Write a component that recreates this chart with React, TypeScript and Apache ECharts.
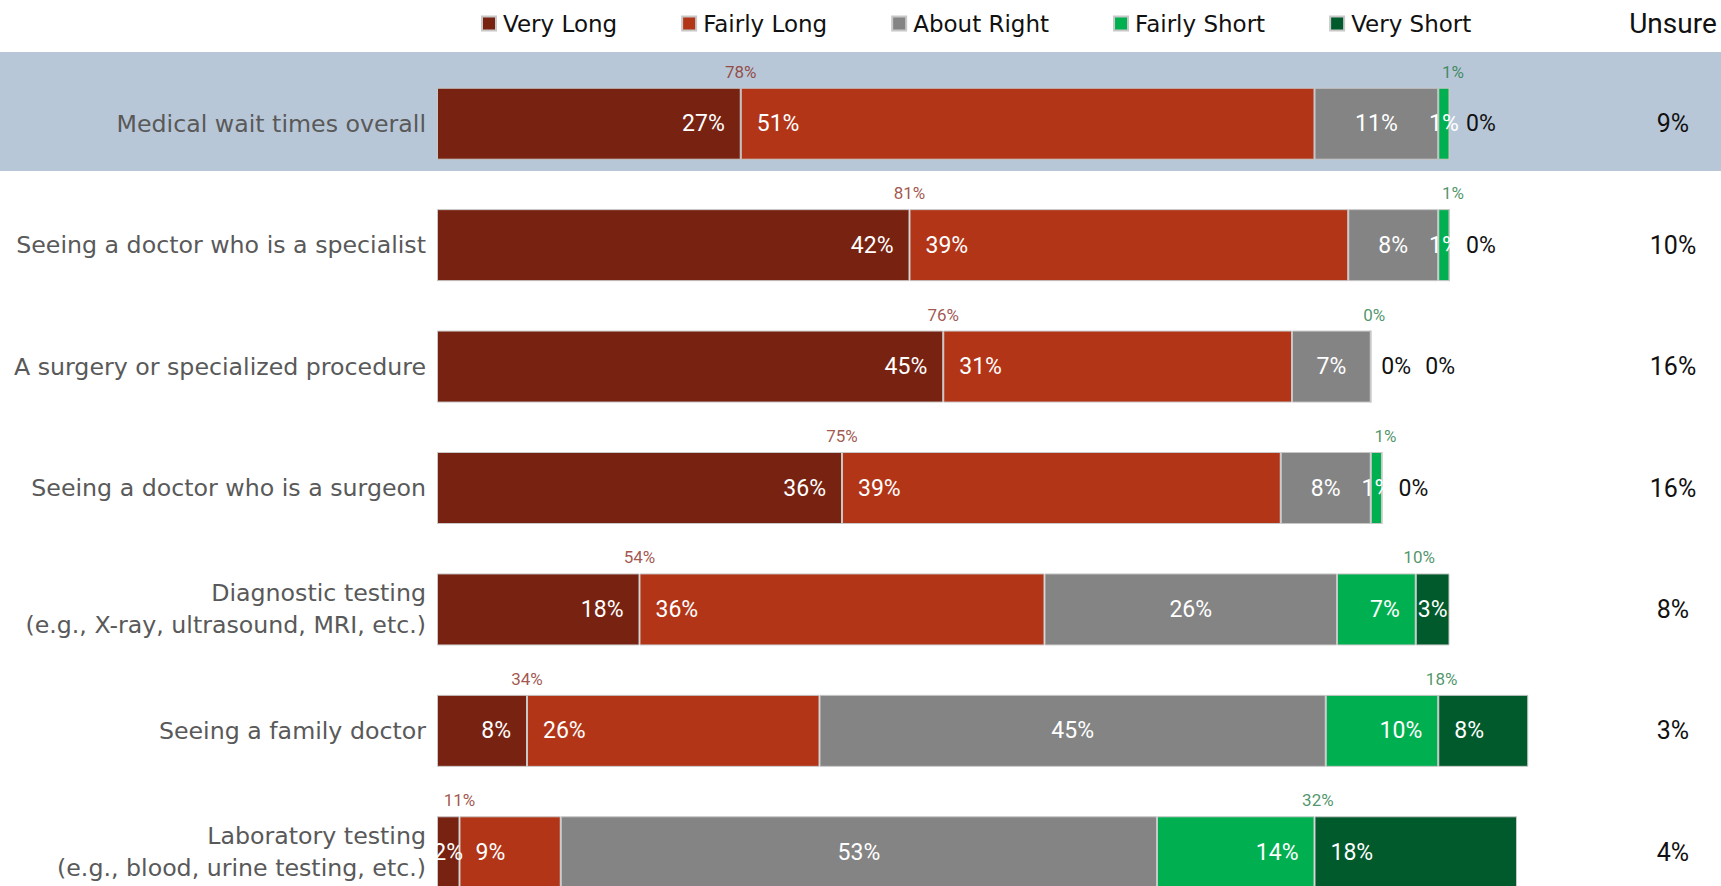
import React, { useEffect, useRef } from 'react';
import * as echarts from 'echarts';

const categories = [
  'Medical wait times overall',
  'Seeing a doctor who is a specialist',
  'A surgery or specialized procedure',
  'Seeing a doctor who is a surgeon',
  'Diagnostic testing\n(e.g., X-ray, ultrasound, MRI, etc.)',
  'Seeing a family doctor',
  'Laboratory testing\n(e.g., blood, urine testing, etc.)',
];
const veryLong = [27, 42, 45, 36, 18, 8, 2];
const fairlyLong = [51, 39, 31, 39, 36, 26, 9];
const aboutRight = [11, 8, 7, 8, 26, 45, 53];
const fairlyShort = [1, 1, 0, 1, 7, 10, 14];
const veryShort = [0, 0, 0, 0, 3, 8, 18];
const longTotal = [78, 81, 76, 75, 54, 34, 11];
const shortTotal = [1, 1, 0, 1, 10, 18, 32];
const unsure = [9, 10, 16, 16, 8, 3, 4];
const seriesNames = ['Very Long', 'Fairly Long', 'About Right', 'Fairly Short', 'Very Short'];

const NUM_FONT = 'Roboto, "Open Sans", sans-serif';
const TXT_FONT = '"DejaVu Sans", Verdana, sans-serif';

export default function App() {
  const ref = useRef<HTMLDivElement>(null);
  useEffect(() => {
    document.body.style.margin = '0';
    document.body.style.overflow = 'hidden';
    const chart = echarts.init(ref.current!, null, { renderer: 'svg' });
    const colors = ['#782211', '#B33518', '#848484', '#00B050', '#005A2B'];
    const values = [veryLong, fairlyLong, aboutRight, fairlyShort, veryShort];
    const basePos = ['insideRight', 'insideLeft', 'inside', 'insideRight', 'insideLeft'];

    const barSeries = values.map((arr, s) => ({
      name: seriesNames[s],
      type: 'bar',
      stack: 'total',
      barWidth: 72,
      itemStyle: { color: colors[s], borderColor: '#C8C8C8', borderWidth: 1 },
      label: {
        show: true,
        position: basePos[s],
        distance: 16,
        color: '#ffffff',
        fontFamily: NUM_FONT,
        fontSize: 23,
        formatter: (p: any) => p.value + '%',
      },
      data: arr.map((v, i) => {
        if (v === 0) {
          let dist = 16;
          if (s === 3) dist = 10;
          if (s === 4 && fairlyShort[i] === 0) dist = 54;
          return { value: v, label: { position: 'right', distance: dist, color: '#111111' } };
        }
        if (v <= 3) return { value: v, label: { position: 'inside' } };
        return { value: v };
      }),
    }));

    const longEnd = veryLong.map((v, i) => [v, i]);
    const shortEnd = veryLong.map((v, i) => [v + fairlyLong[i] + aboutRight[i] + fairlyShort[i] + 0.3, i]);

    const totalSeries = (data: number[][], totals: number[], color: string) => ({
      type: 'scatter',
      symbolSize: 1,
      itemStyle: { color: 'rgba(0,0,0,0)' },
      silent: true,
      label: {
        show: true,
        position: 'top',
        distance: 43,
        color,
        fontFamily: NUM_FONT,
        fontSize: 17,
        formatter: (p: any) => totals[p.dataIndex] + '%',
      },
      data,
      z: 5,
    });

    chart.setOption({
      animation: false,
      graphic: [
        {
          type: 'rect',
          z: -10,
          silent: true,
          shape: { x: 0, y: 52, width: 1721, height: 119 },
          style: { fill: '#B8C7D7' },
        },
        {
          type: 'text',
          x: 1673,
          y: 23,
          style: {
            text: 'Unsure',
            fontFamily: NUM_FONT,
            fontSize: 28,
            fill: '#111111',
            align: 'center',
            verticalAlign: 'middle',
          },
        },
      ],
      legend: {
        data: seriesNames,
        left: 481,
        top: 12,
        padding: 0,
        itemWidth: 14,
        itemHeight: 14,
        itemGap: 64,
        icon: 'rect',
        selectedMode: false,
        textStyle: { fontFamily: TXT_FONT, fontSize: 23, color: '#111111', padding: [0, 0, 0, 2] },
      },
      grid: { left: 437, top: 63, right: 159, bottom: 0, containLabel: false },
      xAxis: { type: 'value', min: 0, max: 100, show: false },
      yAxis: [
        {
          type: 'category',
          data: categories,
          inverse: true,
          axisLine: { show: false },
          axisTick: { show: false },
          axisLabel: {
            margin: 11,
            color: '#595959',
            fontFamily: TXT_FONT,
            fontSize: 23.7,
            lineHeight: 32,
            align: 'right',
          },
        },
        {
          type: 'category',
          data: categories,
          inverse: true,
          position: 'right',
          axisLine: { show: false },
          axisTick: { show: false },
          axisLabel: {
            margin: 111,
            align: 'center',
            color: '#111111',
            fontFamily: NUM_FONT,
            fontSize: 25,
            formatter: (_v: string, i: number) => unsure[i] + '%',
          },
        },
      ],
      series: [
        ...barSeries,
        totalSeries(longEnd, longTotal, '#8A2B1C'),
        totalSeries(shortEnd, shortTotal, '#1E7A45'),
      ],
    });
    return () => chart.dispose();
  }, []);
  return <div ref={ref} style={{ position: 'absolute', left: 0, top: 0, width: 1721, height: 913 }} />;
}
